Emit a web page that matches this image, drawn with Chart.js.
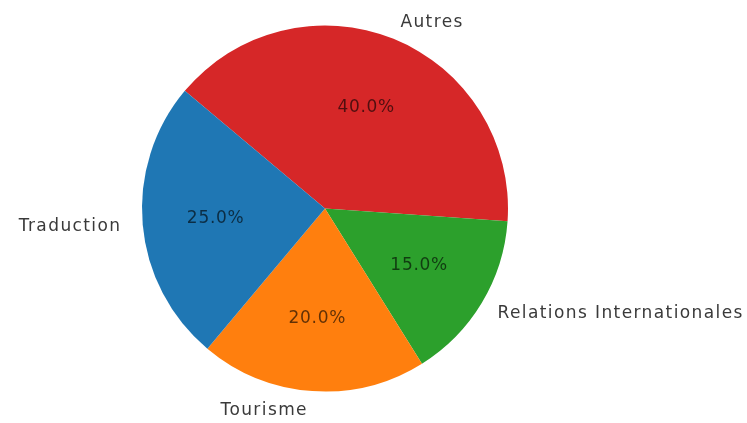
<!DOCTYPE html>
<html>
<head>
<meta charset="utf-8">
<script src="https://cdn.jsdelivr.net/npm/chart.js@4"></script>
<style>
  html, body { margin: 0; padding: 0; background: #fff; }
  #wrap { width: 747px; height: 423px; }
</style>
</head>
<body>
<div id="wrap"><canvas id="pie-chart"></canvas></div>
<script>
// clockwise order from the top-left boundary (matplotlib drew them counter-clockwise)
var labels = ['Autres', 'Relations Internationales', 'Tourisme', 'Traduction'];
var values = [40, 15, 20, 25];
var colors = ['#d62728', '#2ca02c', '#ff7f0e', '#1f77b4'];

var fontFamily = '"DejaVu Sans", sans-serif';

var pieText = {
    id: 'pieText',
    afterDatasetsDraw: function (chart) {
        var ctx = chart.ctx;
        var meta = chart.getDatasetMeta(0);
        var total = values.reduce(function (a, b) { return a + b; }, 0);
        ctx.save();
        meta.data.forEach(function (arc, i) {
            var mid = (arc.startAngle + arc.endAngle) / 2;
            var r = arc.outerRadius;
            var cx = Math.cos(mid), cy = Math.sin(mid);

            // percentage inside
            ctx.font = '17px ' + fontFamily;
            ctx.letterSpacing = '0.7px';
            ctx.fillStyle = 'rgba(0,0,0,0.62)';
            ctx.textAlign = 'center';
            ctx.textBaseline = 'middle';
            ctx.fillText((values[i] / total * 100).toFixed(1) + '%', arc.x + cx * r * 0.6, arc.y + cy * r * 0.6 + 1);

            // category label outside
            ctx.font = '17px ' + fontFamily;
            ctx.letterSpacing = '1.4px';
            ctx.fillStyle = '#3a3a3a';
            ctx.textAlign = cx > 0 ? 'left' : 'right';
            ctx.fillText(labels[i], arc.x + cx * r * 1.1 + (cx > 0 ? 0 : -3), arc.y + cy * r * 1.1 + 1);
        });
        ctx.restore();
    }
};

var ctx = document.getElementById('pie-chart').getContext('2d');
var myChart = new Chart(ctx, {
    type: 'pie',
    data: {
        labels: labels,
        datasets: [{
            data: values,
            backgroundColor: colors,
            borderWidth: 0
        }]
    },
    options: {
        responsive: true,
        maintainAspectRatio: false,
        animation: false,
        rotation: -50,
        layout: {
            padding: { left: 142, right: 239, top: 25, bottom: 31 }
        },
        plugins: {
            legend: { display: false },
            tooltip: { enabled: false }
        }
    },
    plugins: [pieText]
});
</script>
</body>
</html>
